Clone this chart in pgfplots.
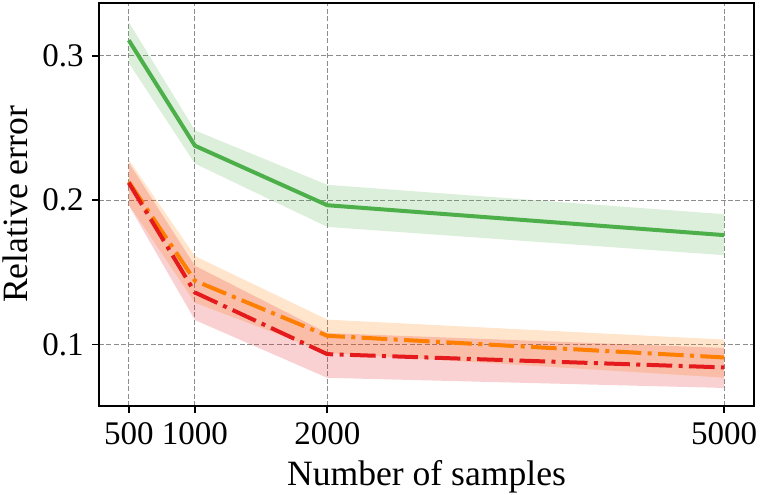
\documentclass[border=0pt]{standalone}
\usepackage{pgfplots}
\pgfplotsset{compat=1.18}
\usepackage{pgfplotstable}
\usepgfplotslibrary{fillbetween}
\usetikzlibrary{calc}
\usepackage{fontspec}
\setmainfont{Liberation Serif}

\definecolor{sgreen}{HTML}{4DAF4A}
\definecolor{sorange}{HTML}{FF7F00}
\definecolor{sred}{HTML}{E41A1C}

\pgfplotstableread{
x y lo hi
500 0.3107 0.2950 0.3233
1000 0.2377 0.2253 0.2483
2000 0.1965 0.1815 0.2106
5000 0.1758 0.1619 0.1903
}\green

\pgfplotstableread{
x y lo hi
500 0.2127 0.1970 0.2279
1000 0.1442 0.1290 0.1613
2000 0.1061 0.0942 0.1173
5000 0.0911 0.0771 0.1035
}\orange

\pgfplotstableread{
x y lo hi
500 0.2120 0.1965 0.2260
1000 0.1361 0.1170 0.1546
2000 0.0934 0.0770 0.1080
5000 0.0842 0.0700 0.0977
}\red

\begin{document}
\begin{tikzpicture}
\begin{axis}[
  name=ax,
  scale only axis,
  width=327.5pt, height=201.5pt,
  xmin=275, xmax=5225,
  ymin=0.0575, ymax=0.3365,
  xtick={500,1000,2000,5000},
  xticklabels={500,1000,2000,5000},
  ytick={0.1,0.2,0.3},
  yticklabels={0.1,0.2,0.3},
  tick align=outside,
  major tick length=3.5pt,
  tick style={black, line width=0.8pt},
  axis line style={black, line width=0.8pt},
  grid=major,
  major grid style={black!45, line width=0.5pt, dash pattern=on 2.5pt off 1.2pt},
  xtick pos=bottom, ytick pos=left,
  ticklabel style={font=\fontsize{16.5}{19}\selectfont},
  xticklabel style={anchor=base, yshift=-15.5pt},
  yticklabel style={anchor=east, inner xsep=0pt, xshift=-4pt},
  xlabel={Number of samples},
  ylabel={Relative error},
  label style={font=\fontsize{17.8}{21}\selectfont},
  xlabel style={at={(axis description cs:0.5,0)}, anchor=base, inner sep=0pt, yshift=-39.5pt},
  ylabel style={at={(axis description cs:0,0.5)}, anchor=south, inner sep=0pt, yshift=35.5pt},
  /pgf/number format/assume math mode=true,
]
% green
\addplot[name path=gh, draw=none, forget plot] table[x=x, y=hi] {\green};
\addplot[name path=gl, draw=none, forget plot] table[x=x, y=lo] {\green};
\addplot[sgreen, fill opacity=0.2, draw=none, forget plot] fill between[of=gh and gl];
\addplot[sgreen, line width=2pt] table[x=x, y=y] {\green};
% orange
\addplot[name path=oh, draw=none, forget plot] table[x=x, y=hi] {\orange};
\addplot[name path=ol, draw=none, forget plot] table[x=x, y=lo] {\orange};
\addplot[sorange, fill opacity=0.2, draw=none, forget plot] fill between[of=oh and ol];
\addplot[sorange, line width=2pt, dash pattern=on 12.8pt off 3.2pt on 2pt off 3.2pt] table[x=x, y=y] {\orange};
% red
\addplot[name path=rh, draw=none, forget plot] table[x=x, y=hi] {\red};
\addplot[name path=rl, draw=none, forget plot] table[x=x, y=lo] {\red};
\addplot[sred, fill opacity=0.2, draw=none, forget plot] fill between[of=rh and rl];
\addplot[sred, line width=2pt, dash pattern=on 12.8pt off 3.2pt on 2pt off 3.2pt] table[x=x, y=y] {\red};
\end{axis}
\pgfresetboundingbox
\path[use as bounding box] ($(ax.south west)+(-49.5pt,-44pt)$) rectangle ($(ax.north east)+(3.5pt,1.5pt)$);
\end{tikzpicture}
\end{document}
